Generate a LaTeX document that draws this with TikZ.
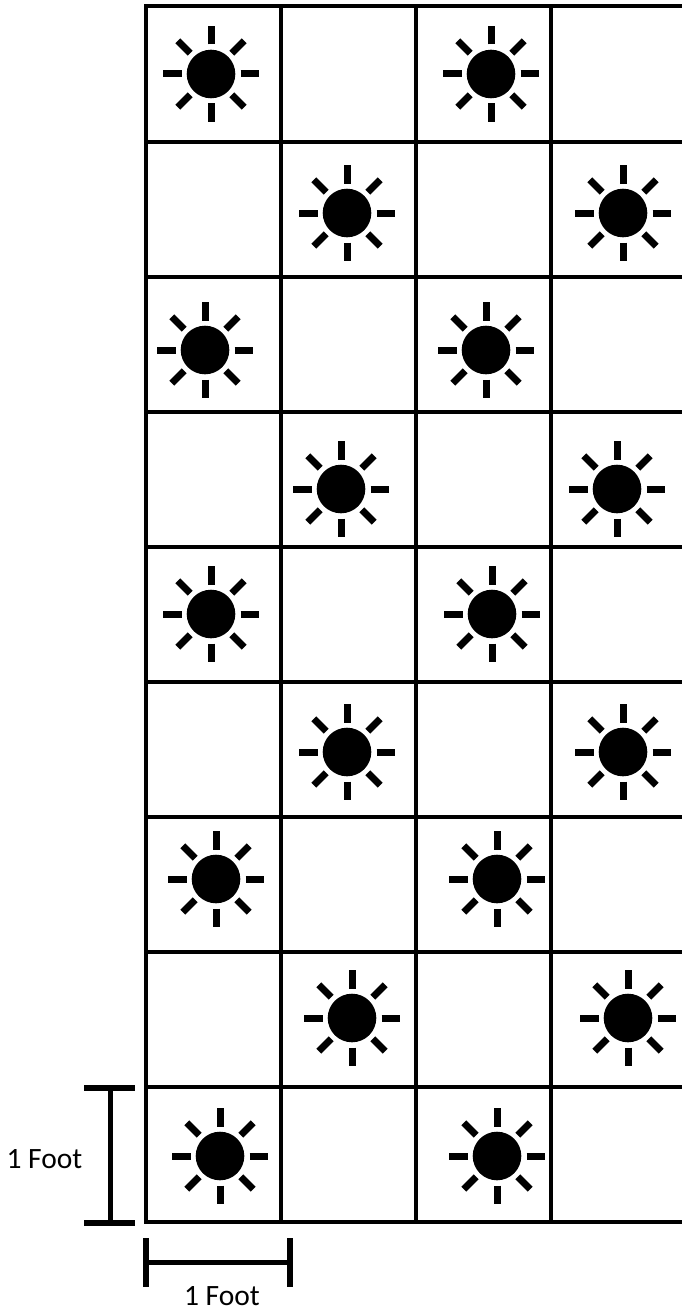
\documentclass[tikz,border=0pt]{standalone}
\usepackage{fontspec}
\setmainfont{Carlito}
\usepackage{xcolor}
\usetikzlibrary{positioning}
\definecolor{ink}{HTML}{000000}
\tikzset{
  gridline/.style={draw=ink, line width=4pt, line cap=rect},
  dimbar/.style={draw=ink, line width=5pt},
  dimcap/.style={draw=ink, line width=6pt},
  ray/.style={draw=ink, line width=7pt},
  dimlabel/.style={font=\fontsize{29.5}{32}\selectfont, text=ink, inner sep=0pt},
  sun/.pic={
    \fill[ink] (0,0) circle (24.3);
    \foreach \ang in {0,90,180,270} {
      \draw[ray] (\ang:29.5) -- (\ang:48);
    }
    \foreach \ang in {45,135,225,315} {
      \draw[ray] (\ang:29.5) -- (\ang:47);
    }
  }
}
\begin{document}
\begin{tikzpicture}[x=1pt,y=-1pt]
        \useasboundingbox (0,0) rectangle (682,1311);
        % grid of one foot squares
        \foreach \gx in {145.5,280.5,415.5,550.5} {
          \draw[gridline] (\gx,6.5) -- (\gx,1221.5);
        }
        \foreach \gy in {6.5,141.5,276.5,411.5,546.5,681.5,816.5,951.5,1086.5,1221.5} {
          \draw[gridline] (145.5,\gy) -- (684,\gy);
        }
        % suns, every other square
        \foreach \sx/\sy in {211/74,491/74,347/213,623/213,205/350,486/350,341/489,617/489,
                             211/614,492/614,347/752,623/752,216/879,497/879,352/1018,628/1018,
                             220/1156,497/1156} {
          \pic at (\sx,\sy) {sun};
        }
        % height marker
        \coordinate (hightop) at (110,1087.5);
        \coordinate (hightbot) at (110,1223);
        \draw[dimcap] (84,1087.5) -- (135,1087.5);
        \draw[dimcap] (84,1223) -- (135,1223);
        \draw[dimbar] (hightop) -- (hightbot);
        \node[dimlabel] (hightlabel) at (44.5,1159) {1 Foot};
        % width marker
        \coordinate (widthleft) at (146,1262.5);
        \coordinate (widthright) at (290,1262.5);
        \draw[dimcap] (146,1238) -- (146,1286.5);
        \draw[dimcap] (290,1238) -- (290,1286.5);
        \draw[dimbar] (widthleft) -- (widthright);
        \node[dimlabel] (widthlabel) at (222,1296) {1 Foot};
      \end{tikzpicture}
\end{document}
